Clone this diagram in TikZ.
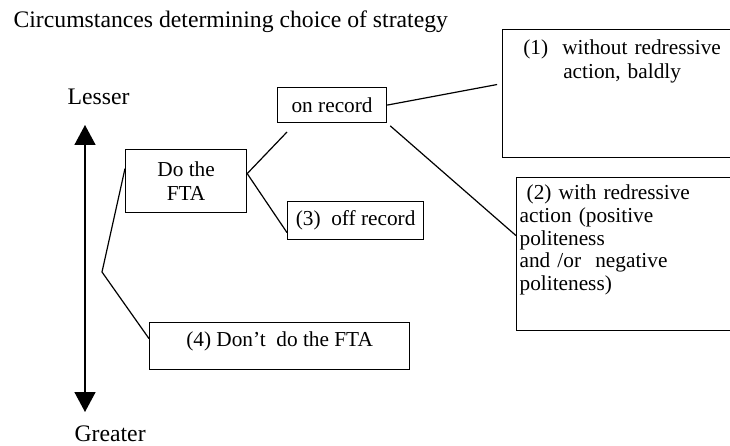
\documentclass[tikz,border=0pt]{standalone}
\usepackage{fontspec}
\setmainfont{Liberation Serif}
\usetikzlibrary{arrows.meta}

\begin{document}
\begin{tikzpicture}[x=1pt,y=-1pt,line width=1.2pt,
	>={Triangle[width=21pt,length=20pt]},
	box/.style={draw,rectangle,anchor=north west,inner sep=3pt,
		font=\fontsize{21.3}{23.5}\selectfont},
	big/.style={inner sep=0pt,anchor=base west,
		font=\fontsize{23.7}{28}\selectfont}]
\def\linie#1#2{
	\draw #1 -- #2;
}
\useasboundingbox (0,0) rectangle (730,446);
\coordinate (q0) at (277,87);
\coordinate (q1) at (125,149);
\coordinate (q2) at (287,201);
\coordinate (q3) at (149,322);
\coordinate (q4) at (502,29);
\coordinate (q5) at (516,177);
\coordinate (e1) at (287,132);
\coordinate (kink) at (102,272);
\coordinate (au) at (85,125);
\coordinate (ad) at (85,412);
\node[big] (tit) at (13,28) {Circumstances determining choice of strategy};
\node[big] (less) at (67,105) {Lesser};
\node[big] (great) at (74,441) {Greater};
\node[box,minimum width=109pt,minimum height=35pt] (on) at (q0) {on record};
\node[box,minimum width=121pt,minimum height=63pt,align=center] (do) at (q1) {Do the\\FTA};
\node[box,minimum width=136pt,minimum height=38pt] (off) at (q2) {(3)\ \ off record};
\node[box,minimum width=260pt,text height=21pt,text depth=20pt] (dont) at (q3) {(4) Don’t\ \ do the FTA};
\node[box,text width=233pt,align=center,text height=22pt,text depth=100pt] (r1) at (q4) {(1)\ \ without redressive\\action, baldly};
\node[box,font=\fontsize{21.3}{22.8}\selectfont,text width=220pt,align=left,text height=19pt,text depth=128pt] (r2) at (q5) {\ (2) with redressive\\action (positive\\politeness\\and /or\ \ negative\\politeness)};
\linie{([yshift=7.5pt]do.east)}{(e1)}
\linie{([yshift=7.5pt]do.east)}{([yshift=-12pt]off.west)}
\draw[shorten >=5pt] (on.east) -- ([yshift=10pt]r1.west);
\draw[shorten <=4pt] (on.south east) -- ([yshift=18.5pt]r2.west);
\draw ([yshift=12.5pt]do.west) -- (kink) -- ([yshift=7.5pt]dont.west);
\draw[<->,line width=1.6pt] (au) -- (ad);
\end{tikzpicture}
\end{document}
